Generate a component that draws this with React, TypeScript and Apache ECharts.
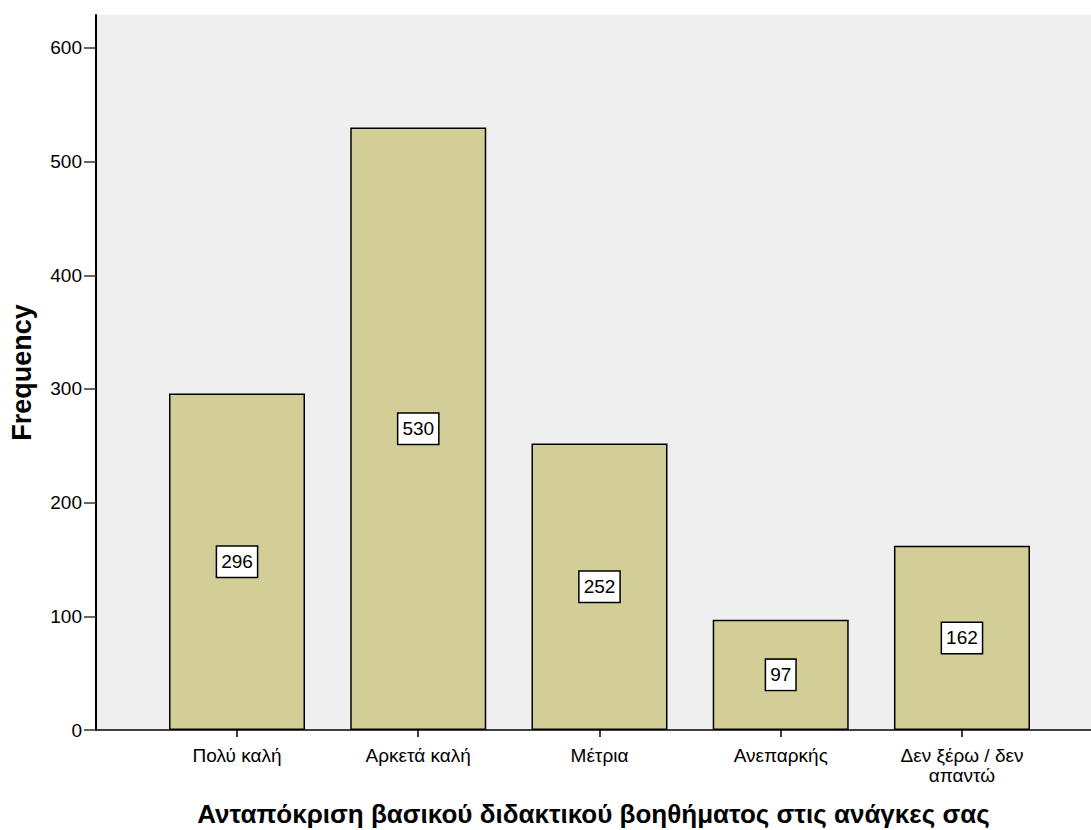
import React, { useEffect, useRef } from "react";
import * as echarts from "echarts";

const categories = ["Πολύ καλή", "Αρκετά καλή", "Μέτρια", "Ανεπαρκής", "Δεν ξέρω / δεν\nαπαντώ"];
const frequencies = [296, 530, 252, 97, 162];
const yTicks = [0, 100, 200, 300, 400, 500, 600];
const xTitle = "Ανταπόκριση βασικού διδακτικού βοηθήματος στις ανάγκες σας";
const yTitle = "Frequency";

const FONT = 'Arial, "Liberation Sans", sans-serif';

export default function App() {
  const ref = useRef<HTMLDivElement>(null);
  useEffect(() => {
    document.body.style.margin = "0";
    if (!ref.current) return;
    const chart = echarts.init(ref.current, null, { renderer: "svg" });
    const idx = categories.map((_, i) => i);
    chart.setOption({
      animation: false,
      textStyle: { fontFamily: FONT },
      grid: {
        left: 96,
        right: 0,
        top: 15,
        bottom: 100,
        show: true,
        backgroundColor: "#EFEFEF",
        borderWidth: 0,
        outerBoundsMode: "none",
        containLabel: false,
      },
      xAxis: {
        type: "value",
        min: -0.778,
        max: 4.712,
        splitLine: { show: false },
        axisLine: { show: true, onZero: false, lineStyle: { color: "#000", width: 1.5 } },
        axisTick: { show: true, customValues: idx, length: 7, lineStyle: { color: "#000", width: 1.5 } },
        axisLabel: {
          customValues: idx,
          formatter: (v: number) => categories[Math.round(v)] ?? "",
          fontSize: 19,
          color: "#000",
          margin: 15,
          lineHeight: 20,
          fontFamily: FONT,
        },
        name: xTitle,
        nameLocation: "middle",
        nameGap: 71,
        nameTextStyle: { fontSize: 26, fontWeight: "bold", color: "#000", fontFamily: FONT },
      },
      yAxis: {
        type: "value",
        min: 0,
        max: 629,
        interval: 100,
        splitLine: { show: false },
        axisLine: { show: true, onZero: false, lineStyle: { color: "#000", width: 2 } },
        axisTick: { show: true, customValues: yTicks, length: 12, lineStyle: { color: "#333", width: 1.5 } },
        axisLabel: {
          customValues: yTicks,
          fontSize: 19,
          color: "#000",
          margin: 14,
          fontFamily: FONT,
        },
        name: yTitle,
        nameLocation: "middle",
        nameRotate: 90,
        nameGap: 61,
        nameTextStyle: { fontSize: 27, fontWeight: "bold", color: "#000", fontFamily: FONT },
      },
      series: [
        {
          type: "bar",
          data: frequencies.map((v, i) => [i, v]),
          barWidth: 136,
          itemStyle: { color: "#D3CE97", borderColor: "#000", borderWidth: 1.5 },
          label: {
            show: true,
            position: "inside",
            formatter: (p: any) => String(p.value[1]),
            backgroundColor: "#fff",
            borderColor: "#000",
            borderWidth: 1.5,
            padding: [6, 4, 5, 4],
            fontSize: 19,
            color: "#000",
            fontFamily: FONT,
          },
        },
      ],
    });
    return () => chart.dispose();
  }, []);
  return <div ref={ref} style={{ width: 1091, height: 830 }} />;
}
